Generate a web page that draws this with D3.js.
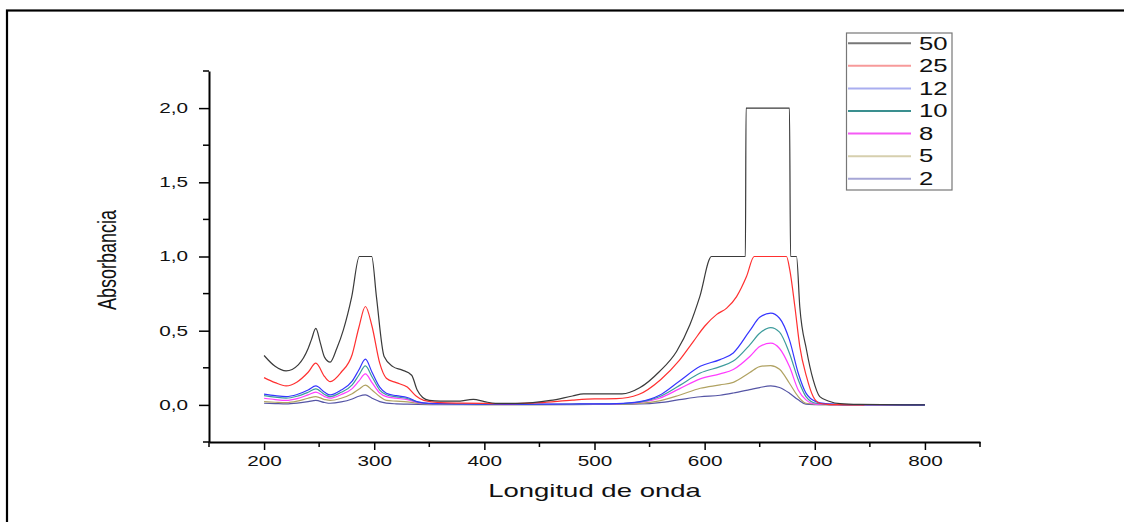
<!DOCTYPE html>
<html>
<head>
<meta charset="utf-8">
<script src="https://cdn.jsdelivr.net/npm/d3@7"></script>
<style>
  body { margin: 0; background: #fff; }
  svg { display: block; font-family: 'Liberation Sans', Arial, sans-serif; }
</style>
</head>
<body>
<div id="graf"></div>
<script>
// series labels (concentrations) and colors
const etiquetas = ['50', '25', '12', '10', '8', '5', '2']
const colores = ['#3a3a3a', '#ff3030', '#3535ff', '#3d9c9c', '#ff3cff', '#b0a262', '#5555a5']
const coloresLeyenda = ['#777777', '#f79a9a', '#a9aef0', '#3a8f8f', '#f55af5', '#d6cfae', '#a6a6d6']

// 50: saturated curve with plateaus
const wl50 = [200, 210, 220, 231, 240, 243, 247, 251, 255, 260, 266, 272, 279.6, 286.5, 297.7, 302, 309, 317, 325, 334,
  339, 344, 350, 360, 375, 390, 400, 410, 430, 460, 480, 490, 525, 541, 559, 574.5, 586.6, 595.6, 606.2, 637,
  637.6, 677, 678, 683.4, 686.4, 692.5, 698.5, 704.5, 713, 723, 740, 800]
const abs50 = [0.333, 0.26, 0.229, 0.27, 0.38, 0.44, 0.515, 0.42, 0.32, 0.288, 0.38, 0.506, 0.73, 1.0, 1.0, 0.73, 0.326, 0.258, 0.236, 0.2,
  0.1, 0.05, 0.03, 0.025, 0.025, 0.037, 0.022, 0.01, 0.01, 0.03, 0.06, 0.074, 0.074, 0.115, 0.225, 0.36, 0.54, 0.73, 1.0, 1.0,
  2.0, 2.0, 1.0, 1.0, 0.66, 0.37, 0.17, 0.056, 0.025, 0.008, 0.003, 0.0]

// 25
const wl25 = [200, 210, 220, 230, 240, 247, 255, 260, 270, 280, 286, 292, 298, 305, 311, 320, 330, 338, 345, 360,
  380, 400, 420, 450, 480, 500, 520, 540, 560, 577, 590, 600, 611, 620, 629, 638, 645, 674.3, 677.3, 681.9,
  686.4, 692.5, 698.5, 704.5, 712, 722, 745]
const abs25 = [0.184, 0.15, 0.128, 0.155, 0.22, 0.281, 0.19, 0.157, 0.22, 0.34, 0.52, 0.663, 0.53, 0.281, 0.18, 0.15, 0.12, 0.06, 0.03, 0.015,
  0.012, 0.01, 0.008, 0.015, 0.032, 0.04, 0.042, 0.07, 0.17, 0.3, 0.43, 0.53, 0.61, 0.652, 0.73, 0.865, 1.0, 1.0, 0.91, 0.663,
  0.393, 0.19, 0.056, 0.011, 0.004, 0.002, 0.0]

// common wavelength grid for the lower concentrations
const wl = [200, 210, 220, 230, 240, 247, 255, 260, 270, 280, 286, 292, 298, 305, 311, 320, 330, 340, 350, 360,
  380, 400, 420, 450, 480, 500, 520, 541, 559, 577, 596, 614, 626, 641, 650, 660, 668, 677, 685, 692,
  701, 710, 720, 740, 760, 800]
const abs12 = [0.072, 0.062, 0.056, 0.07, 0.1, 0.128, 0.085, 0.067, 0.1, 0.16, 0.235, 0.308, 0.22, 0.12, 0.079, 0.062, 0.05, 0.02, 0.01, 0.008,
  0.006, 0.005, 0.004, 0.005, 0.006, 0.007, 0.009, 0.022, 0.065, 0.16, 0.26, 0.305, 0.35, 0.5, 0.59, 0.618, 0.584, 0.438, 0.213, 0.079,
  0.022, 0.008, 0.004, 0.002, 0.001, 0.0]
const abs10 = [0.063, 0.052, 0.045, 0.058, 0.085, 0.108, 0.07, 0.056, 0.085, 0.135, 0.2, 0.263, 0.19, 0.1, 0.068, 0.054, 0.043, 0.018, 0.009, 0.007,
  0.005, 0.004, 0.003, 0.004, 0.005, 0.006, 0.008, 0.019, 0.055, 0.13, 0.215, 0.258, 0.295, 0.405, 0.483, 0.521, 0.49, 0.348, 0.169, 0.056,
  0.011, 0.005, 0.003, 0.001, 0.001, 0.0]
const abs8 = [0.045, 0.036, 0.03, 0.042, 0.068, 0.086, 0.056, 0.045, 0.07, 0.11, 0.16, 0.209, 0.15, 0.08, 0.056, 0.045, 0.035, 0.015, 0.008, 0.006,
  0.004, 0.003, 0.003, 0.003, 0.004, 0.005, 0.007, 0.016, 0.045, 0.108, 0.175, 0.209, 0.238, 0.326, 0.393, 0.416, 0.38, 0.258, 0.101, 0.034,
  0.005, 0.003, 0.002, 0.001, 0.0, 0.0]
const abs5 = [0.022, 0.018, 0.015, 0.025, 0.045, 0.056, 0.036, 0.03, 0.045, 0.075, 0.105, 0.133, 0.1, 0.056, 0.03, 0.025, 0.02, 0.01, 0.005, 0.004,
  0.003, 0.002, 0.002, 0.002, 0.003, 0.004, 0.005, 0.01, 0.027, 0.065, 0.112, 0.135, 0.152, 0.218, 0.258, 0.265, 0.24, 0.146, 0.056, 0.011,
  0.004, 0.002, 0.001, 0.0, 0.0, 0.0]
const abs2 = [0.011, 0.009, 0.007, 0.012, 0.022, 0.03, 0.016, 0.011, 0.02, 0.04, 0.058, 0.067, 0.045, 0.022, 0.012, 0.007, 0.005, 0.003, 0.002, 0.002,
  0.002, 0.001, 0.001, 0.001, 0.002, 0.003, 0.004, 0.006, 0.015, 0.035, 0.055, 0.065, 0.08, 0.103, 0.117, 0.128, 0.117, 0.079, 0.034, 0.005,
  0.002, 0.001, 0.0, 0.0, 0.0, 0.0]

const xMajor = [200, 300, 400, 500, 600, 700, 800]
const xMinor = [150, 250, 350, 450, 550, 650, 750, 850]
const yMajor = [0, 0.5, 1.0, 1.5, 2.0]
const yMinor = [-0.25, 0.25, 0.75, 1.25, 1.75, 2.25]

const series = [
  { wl: wl50, abs: abs50 },
  { wl: wl25, abs: abs25 },
  { wl: wl, abs: abs12 },
  { wl: wl, abs: abs10 },
  { wl: wl, abs: abs8 },
  { wl: wl, abs: abs5 },
  { wl: wl, abs: abs2 },
]

const anchoTotal = 1124
const altoTotal = 522
const sx = 1.48 // text in the reference is stretched horizontally

const svg = d3.select('#graf')
  .append('svg')
  .attr('width', anchoTotal)
  .attr('height', altoTotal)

svg.append('rect')
  .attr('x', 7)
  .attr('y', 10.5)
  .attr('width', 1200)
  .attr('height', 600)
  .attr('fill', '#fff')
  .attr('stroke', '#000')
  .attr('stroke-width', 2.2)

const x = d3.scaleLinear().domain([150, 850]).range([209, 980])
const y = d3.scaleLinear().domain([-0.25, 2.25]).range([442, 71])

// x axis
const ejeX = svg.append('g')
  .attr('transform', `translate(0, ${y(-0.25)})`)
  .call(d3.axisBottom(x).tickValues(xMajor).tickSize(8).tickSizeOuter(0).tickFormat(d3.format('d')))
ejeX.select('.domain').attr('stroke-width', 2).attr('stroke', '#000')
ejeX.selectAll('.tick line').attr('stroke-width', 1.5)
ejeX.selectAll('.tick text')
  .attr('y', 14.5)
  .attr('font-size', 14)
  .attr('font-family', "'Liberation Sans', Arial, sans-serif")
  .attr('fill', '#111')
  .attr('transform', `scale(${sx},1)`)

svg.append('g')
  .selectAll('line')
  .data(xMinor)
  .join('line')
  .attr('x1', (d) => x(d))
  .attr('x2', (d) => x(d))
  .attr('y1', y(-0.25))
  .attr('y2', y(-0.25) + 5)
  .attr('stroke', '#000')
  .attr('stroke-width', 1.5)

// y axis
const ejeY = svg.append('g')
  .attr('transform', `translate(${x(150)}, 0)`)
  .call(d3.axisLeft(y).tickValues(yMajor).tickSize(10).tickSizeOuter(0).tickFormat((d) => d3.format('.1f')(d).replace('.', ',')))
ejeY.select('.domain').attr('stroke-width', 2).attr('stroke', '#000')
ejeY.selectAll('.tick line').attr('stroke-width', 1.5)
ejeY.selectAll('.tick text')
  .attr('x', -21 / sx)
  .attr('font-size', 14)
  .attr('font-family', "'Liberation Sans', Arial, sans-serif")
  .attr('fill', '#111')
  .attr('transform', `scale(${sx},1)`)

svg.append('g')
  .selectAll('line')
  .data(yMinor)
  .join('line')
  .attr('x1', x(150) - 6)
  .attr('x2', x(150))
  .attr('y1', (d) => y(d))
  .attr('y2', (d) => y(d))
  .attr('stroke', '#000')
  .attr('stroke-width', 1.5)

// axis titles
svg.append('text')
  .attr('transform', `translate(${(x(150) + x(850)) / 2}, 496.5) scale(${sx},1)`)
  .attr('text-anchor', 'middle')
  .attr('font-size', 18.6)
  .attr('fill', '#111')
  .text('Longitud de onda')

svg.append('text')
  .attr('transform', `translate(116, 260) scale(1.4,1) rotate(-90)`)
  .attr('text-anchor', 'middle')
  .attr('font-size', 18)
  .attr('fill', '#111')
  .text('Absorbancia')

// curves
const linea = d3.line()
  .x((d) => x(d[0]))
  .y((d) => y(d[1]))
  .curve(d3.curveMonotoneX)

const curvas = svg.append('g')
series.slice().reverse().forEach((s, i) => {
  const k = series.length - 1 - i
  curvas.append('path')
    .datum(d3.zip(s.wl, s.abs))
    .attr('d', linea)
    .attr('fill', 'none')
    .attr('stroke', colores[k])
    .attr('stroke-width', 1.2)
})

// legend
const leyenda = svg.append('g')
leyenda.append('rect')
  .attr('x', 846.5)
  .attr('y', 33)
  .attr('width', 105.5)
  .attr('height', 157)
  .attr('fill', '#fff')
  .attr('stroke', '#777')
  .attr('stroke-width', 1.2)

const filas = leyenda.selectAll('g.fila')
  .data(etiquetas)
  .join('g')
  .attr('class', 'fila')
  .attr('transform', (d, i) => `translate(0, ${43.3 + i * 22.57})`)

filas.append('line')
  .attr('x1', 848)
  .attr('x2', 911)
  .attr('stroke', (d, i) => coloresLeyenda[i])
  .attr('stroke-width', 2)

filas.append('text')
  .attr('transform', `translate(919, 6.3) scale(1.47,1)`)
  .attr('font-size', 17.5)
  .attr('fill', '#111')
  .text((d) => d)
</script>
</body>
</html>
